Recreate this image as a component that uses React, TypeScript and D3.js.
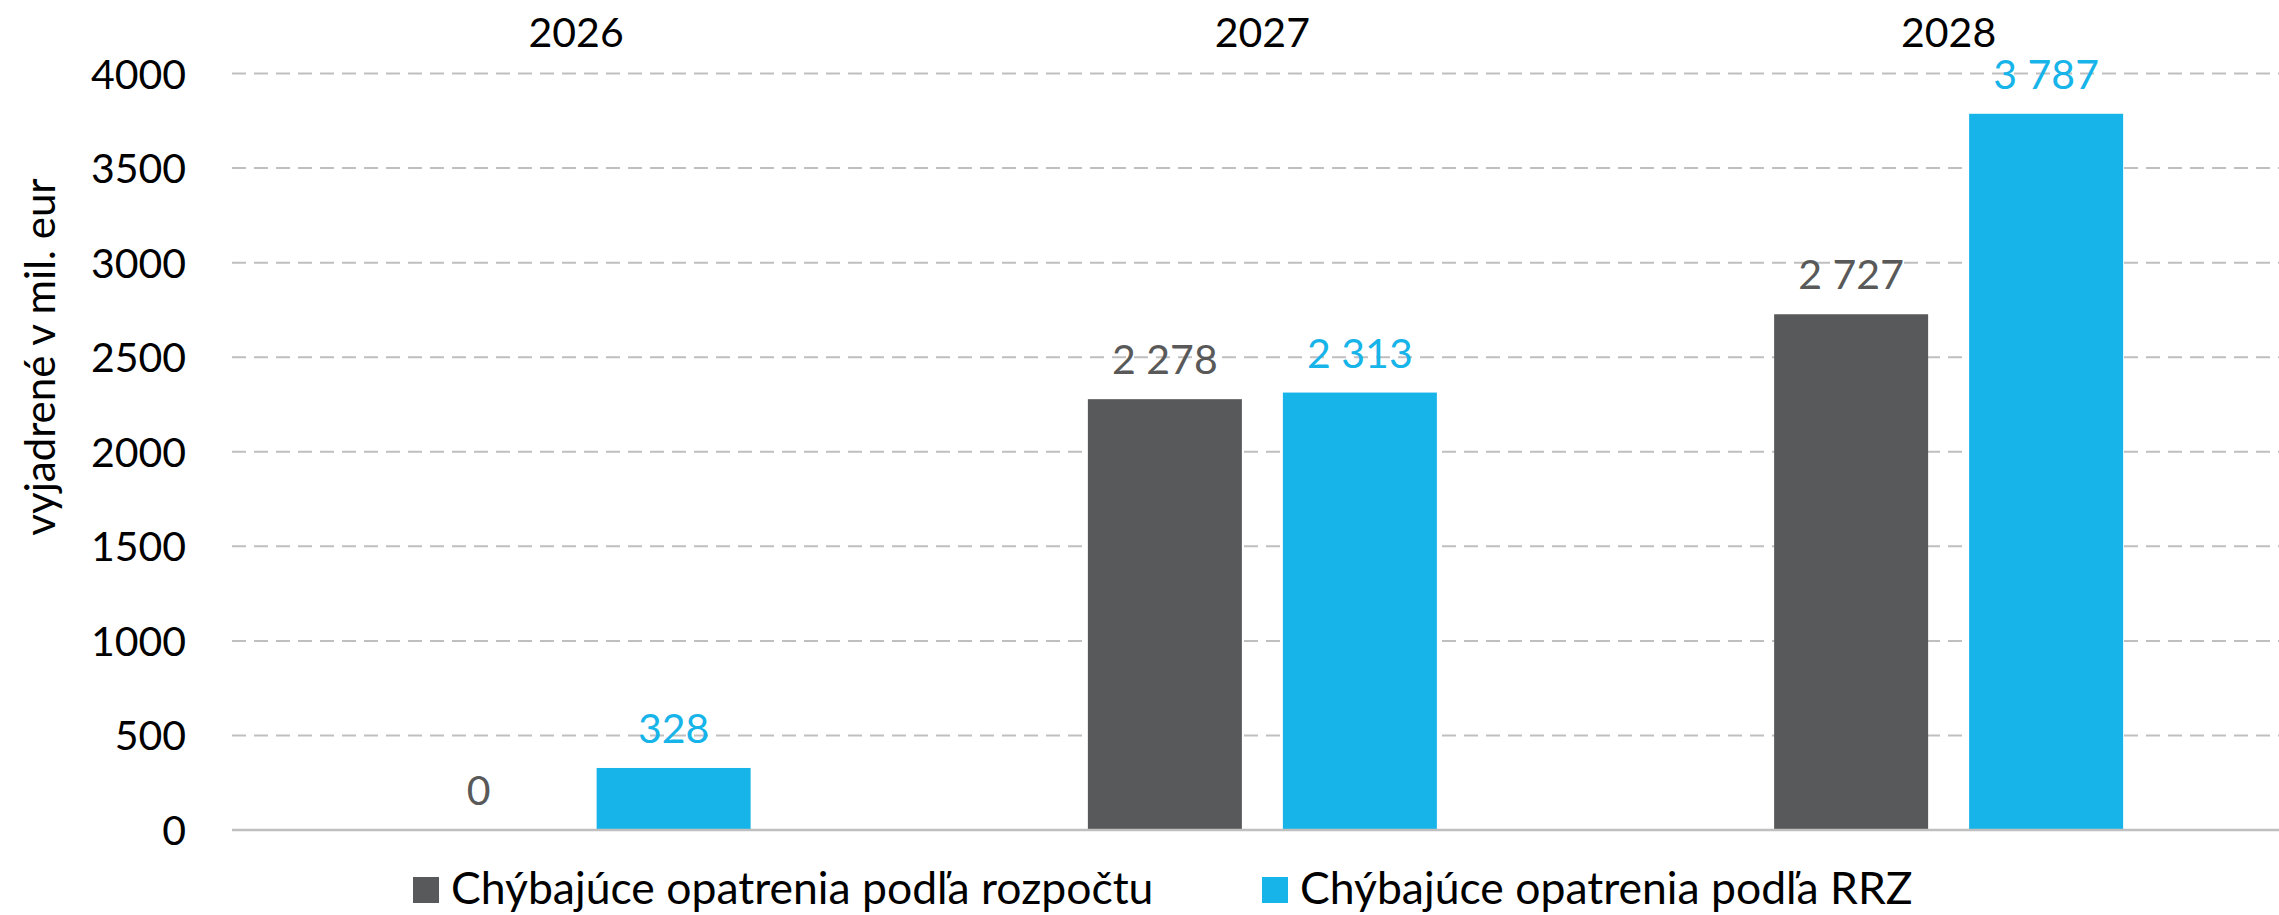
import React, { useEffect } from "react";
import * as d3 from "d3";

const years = ["2026", "2027", "2028"];
const seriesNames = ["Chýbajúce opatrenia podľa rozpočtu", "Chýbajúce opatrenia podľa RRZ"];
const budgetValues = [0, 2278, 2727];
const rrzValues = [328, 2313, 3787];
const yTicks = [0, 500, 1000, 1500, 2000, 2500, 3000, 3500, 4000];
const yAxisTitle = "vyjadrené v mil. eur";

const W = 2279;
const H = 915;
const FONT = "Lato, 'Open Sans', sans-serif";
const GRAY = "#58595B";
const BLUE = "#16B4E9";
const GRAY_LABEL = "#595959";
const GRID = "#BFBFBF";

const fmt = (v: number) => {
  const s = String(Math.round(v));
  return s.replace(/\B(?=(\d{3})+(?!\d))/g, " ");
};

export default function App() {
  useEffect(() => {
    document.body.style.margin = "0";
  }, []);

  const plotLeft = 232;
  const y = d3.scaleLinear().domain([0, 4000]).range([830, 73.5]);
  const x0 = d3.scaleBand<string>().domain(years).range([233, 233 + 3 * 686.25]).padding(0);
  const groupW = 349;
  const x1 = d3.scaleBand<number>().domain([0, 1]).range([0, groupW]).paddingInner(41 / 195).paddingOuter(0);
  const seriesValues = [budgetValues, rrzValues];
  const colors = [GRAY, BLUE];
  const labelColors = [GRAY_LABEL, BLUE];

  return (
    <svg width={W} height={H} style={{ position: "absolute", left: 0, top: 0, display: "block", background: "#fff" }}>
      {yTicks.filter((t) => t > 0).map((t) => (
        <line key={t} x1={plotLeft} x2={W + 20} y1={y(t)} y2={y(t)} stroke={GRID} strokeWidth={2} strokeDasharray="14 8" />
      ))}
      {yTicks.map((t) => (
        <text key={"l" + t} x={186} y={y(t) + 15} textAnchor="end" fontFamily={FONT} fontSize={41} fill="#000">
          {t}
        </text>
      ))}
      <text transform={`translate(55, 357) rotate(-90)`} textAnchor="middle" fontFamily={FONT} fontSize={42} fill="#000">
        {yAxisTitle}
      </text>
      {years.map((yr) => (
        <text key={yr} x={x0(yr)! + x0.bandwidth() / 2} y={47} textAnchor="middle" fontFamily={FONT} fontSize={41} fill="#000">
          {yr}
        </text>
      ))}
      {years.map((yr, i) => {
        const gx = x0(yr)! + (x0.bandwidth() - groupW) / 2;
        return (
          <g key={"g" + yr}>
            {seriesValues.map((vals, s) => {
              const v = vals[i];
              const bx = gx + x1(s)!;
              const bw = x1.bandwidth();
              return (
                <g key={s}>
                  {v > 0 && <rect x={bx} y={y(v)} width={bw} height={y(0) - y(v)} fill={colors[s]} />}
                  <text x={bx + bw / 2} y={y(v) - 25} textAnchor="middle" fontFamily={FONT} fontSize={41} fill={labelColors[s]}>
                    {fmt(v)}
                  </text>
                </g>
              );
            })}
          </g>
        );
      })}
      <line x1={plotLeft} x2={W + 20} y1={y(0)} y2={y(0)} stroke={GRID} strokeWidth={2.5} />
      {seriesNames.map((name, s) => {
        const lx = [413, 1262][s];
        return (
          <g key={"lg" + s}>
            <rect x={lx} y={877} width={26} height={26} fill={colors[s]} />
            <text x={lx + 38} y={904} fontFamily={FONT} fontSize={44.5} fill="#000">
              {name}
            </text>
          </g>
        );
      })}
    </svg>
  );
}
